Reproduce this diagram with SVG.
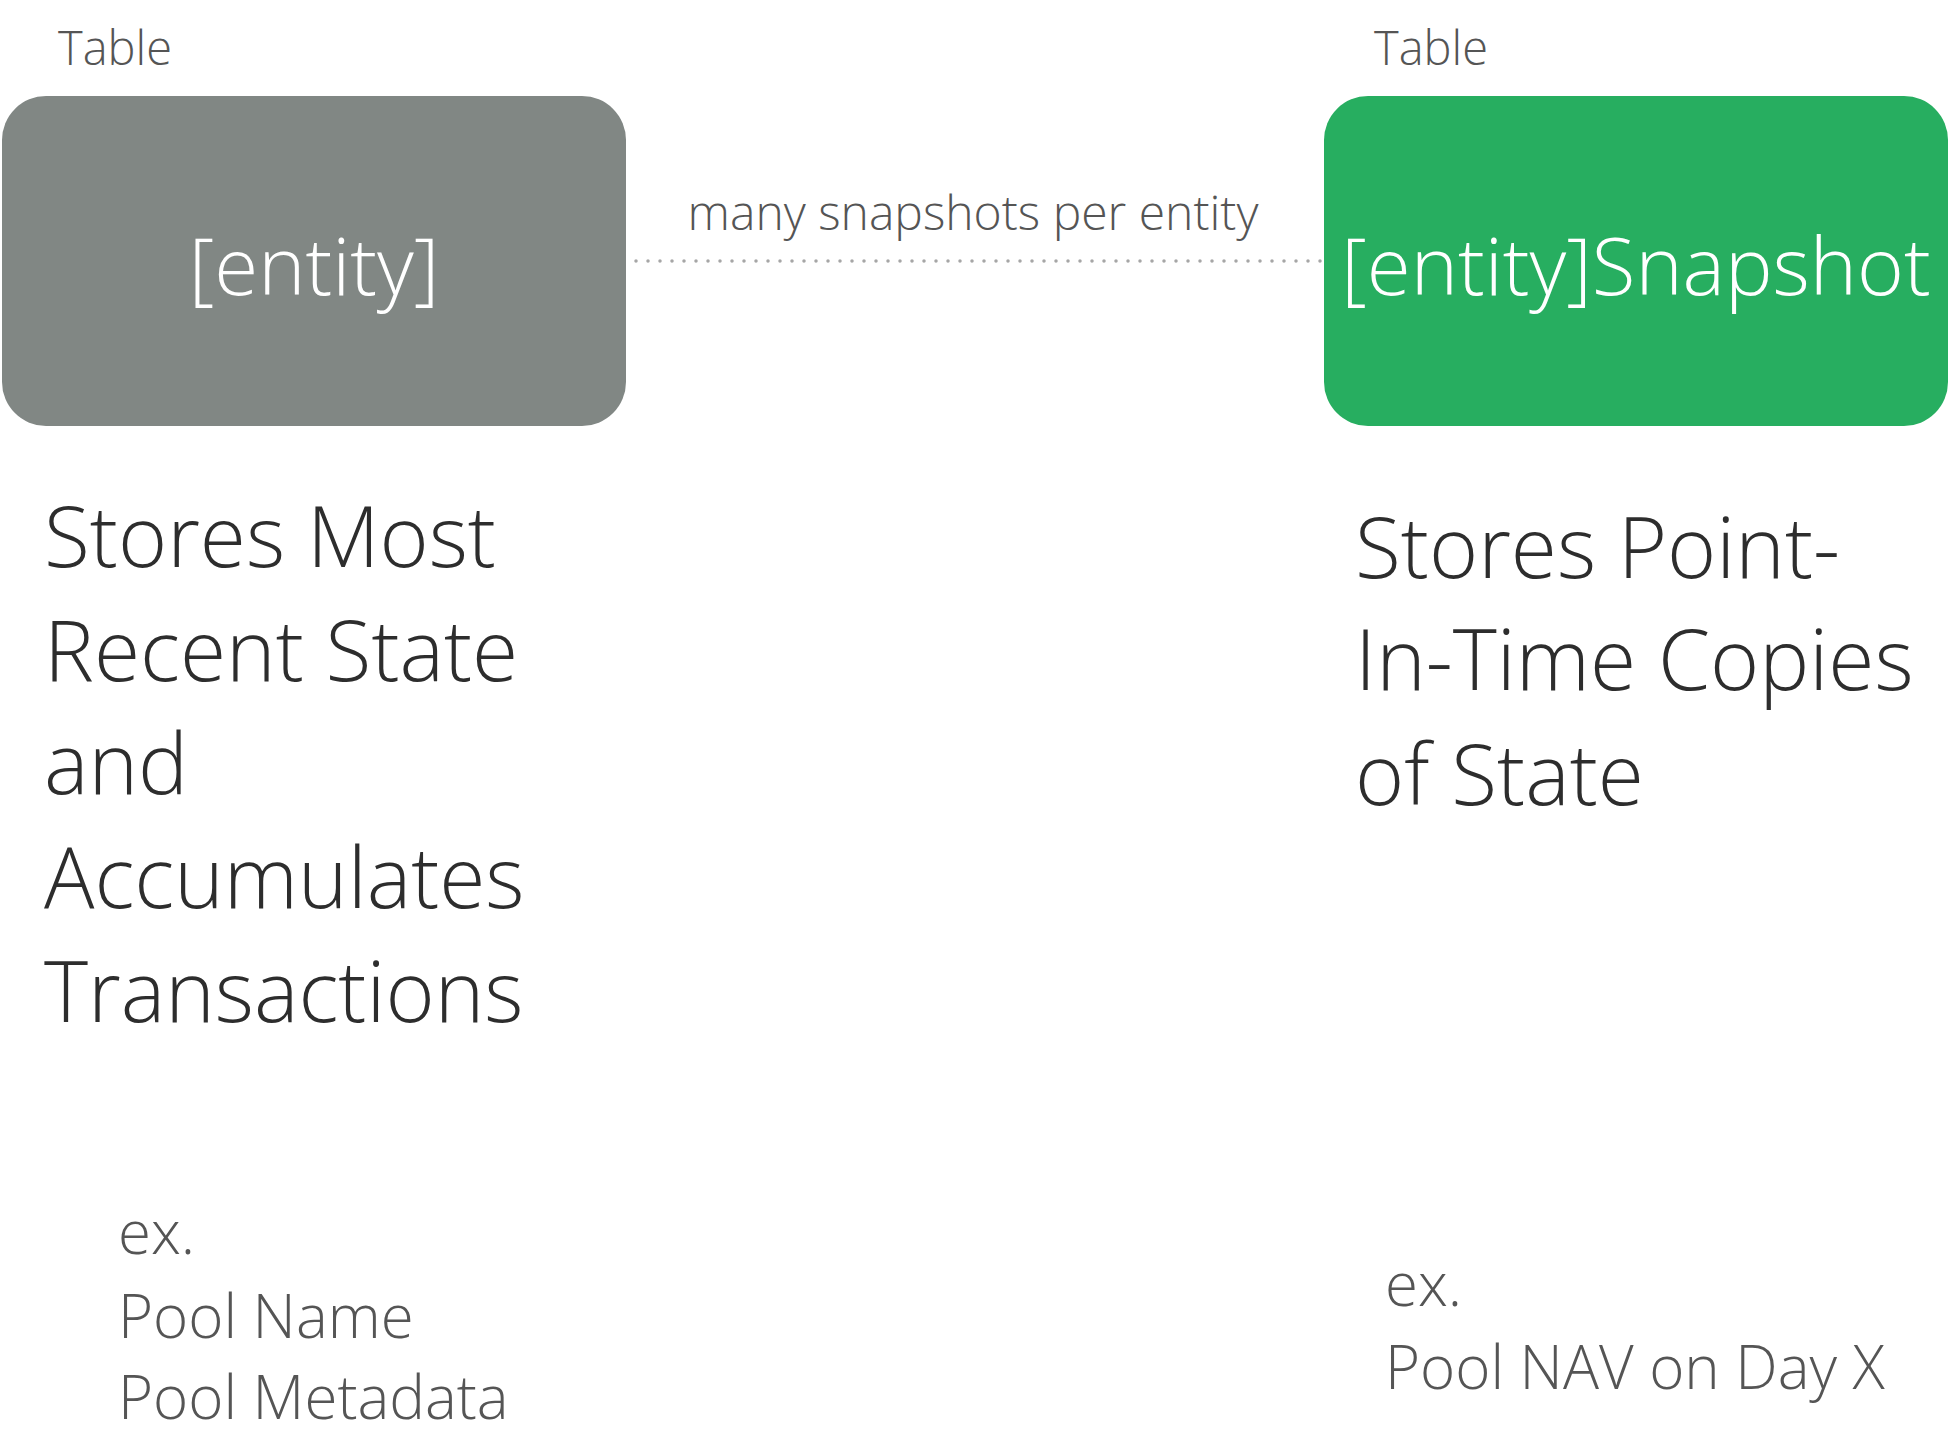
<svg xmlns="http://www.w3.org/2000/svg" width="1950" height="1446" viewBox="0 0 1950 1446">
<style>
  text { font-family: "Open Sans", "Liberation Sans", sans-serif; font-weight: 300; }
  .tag { font-size: 47px; fill: #555555; }
  .title { font-size: 80px; fill: #ffffff; text-anchor: middle; }
  .desc { font-size: 84px; fill: #2d2d2d; }
  .ex { font-size: 60px; fill: #555555; }
  .lbl { font-size: 48px; fill: #555555; text-anchor: middle; }
</style>
<rect width="1950" height="1446" fill="#ffffff"/>
<g id="connectors">
  <line x1="624" y1="261" x2="1336" y2="261" stroke="#a6a6a6" stroke-width="3.5" stroke-linecap="round" stroke-dasharray="0 12"/>
  <text class="lbl" x="973" y="230">many snapshots per entity</text>
</g>
<g id="node-entity">
  <text class="tag" x="58" y="65">Table</text>
  <rect x="2" y="96" width="624" height="330" rx="44" ry="44" fill="#818784"/>
  <text class="title" x="314" y="295">[entity]</text>
  <text class="desc" x="44" y="567">Stores Most</text>
  <text class="desc" x="44" y="681">Recent State</text>
  <text class="desc" x="44" y="794">and</text>
  <text class="desc" x="44" y="908">Accumulates</text>
  <text class="desc" x="44" y="1022">Transactions</text>
  <text class="ex" x="118" y="1254">ex.</text>
  <text class="ex" x="118" y="1338">Pool Name</text>
  <text class="ex" x="118" y="1419">Pool Metadata</text>
</g>
<g id="node-snapshot">
  <text class="tag" x="1374" y="65">Table</text>
  <rect x="1324" y="96" width="624" height="330" rx="44" ry="44" fill="#27ae60"/>
  <text class="title" x="1636" y="295">[entity]Snapshot</text>
  <text class="desc" x="1355" y="578">Stores Point-</text>
  <text class="desc" x="1355" y="690">In-Time Copies</text>
  <text class="desc" x="1355" y="805">of State</text>
  <text class="ex" x="1385" y="1306">ex.</text>
  <text class="ex" x="1385" y="1389">Pool NAV on Day X</text>
</g>
</svg>
